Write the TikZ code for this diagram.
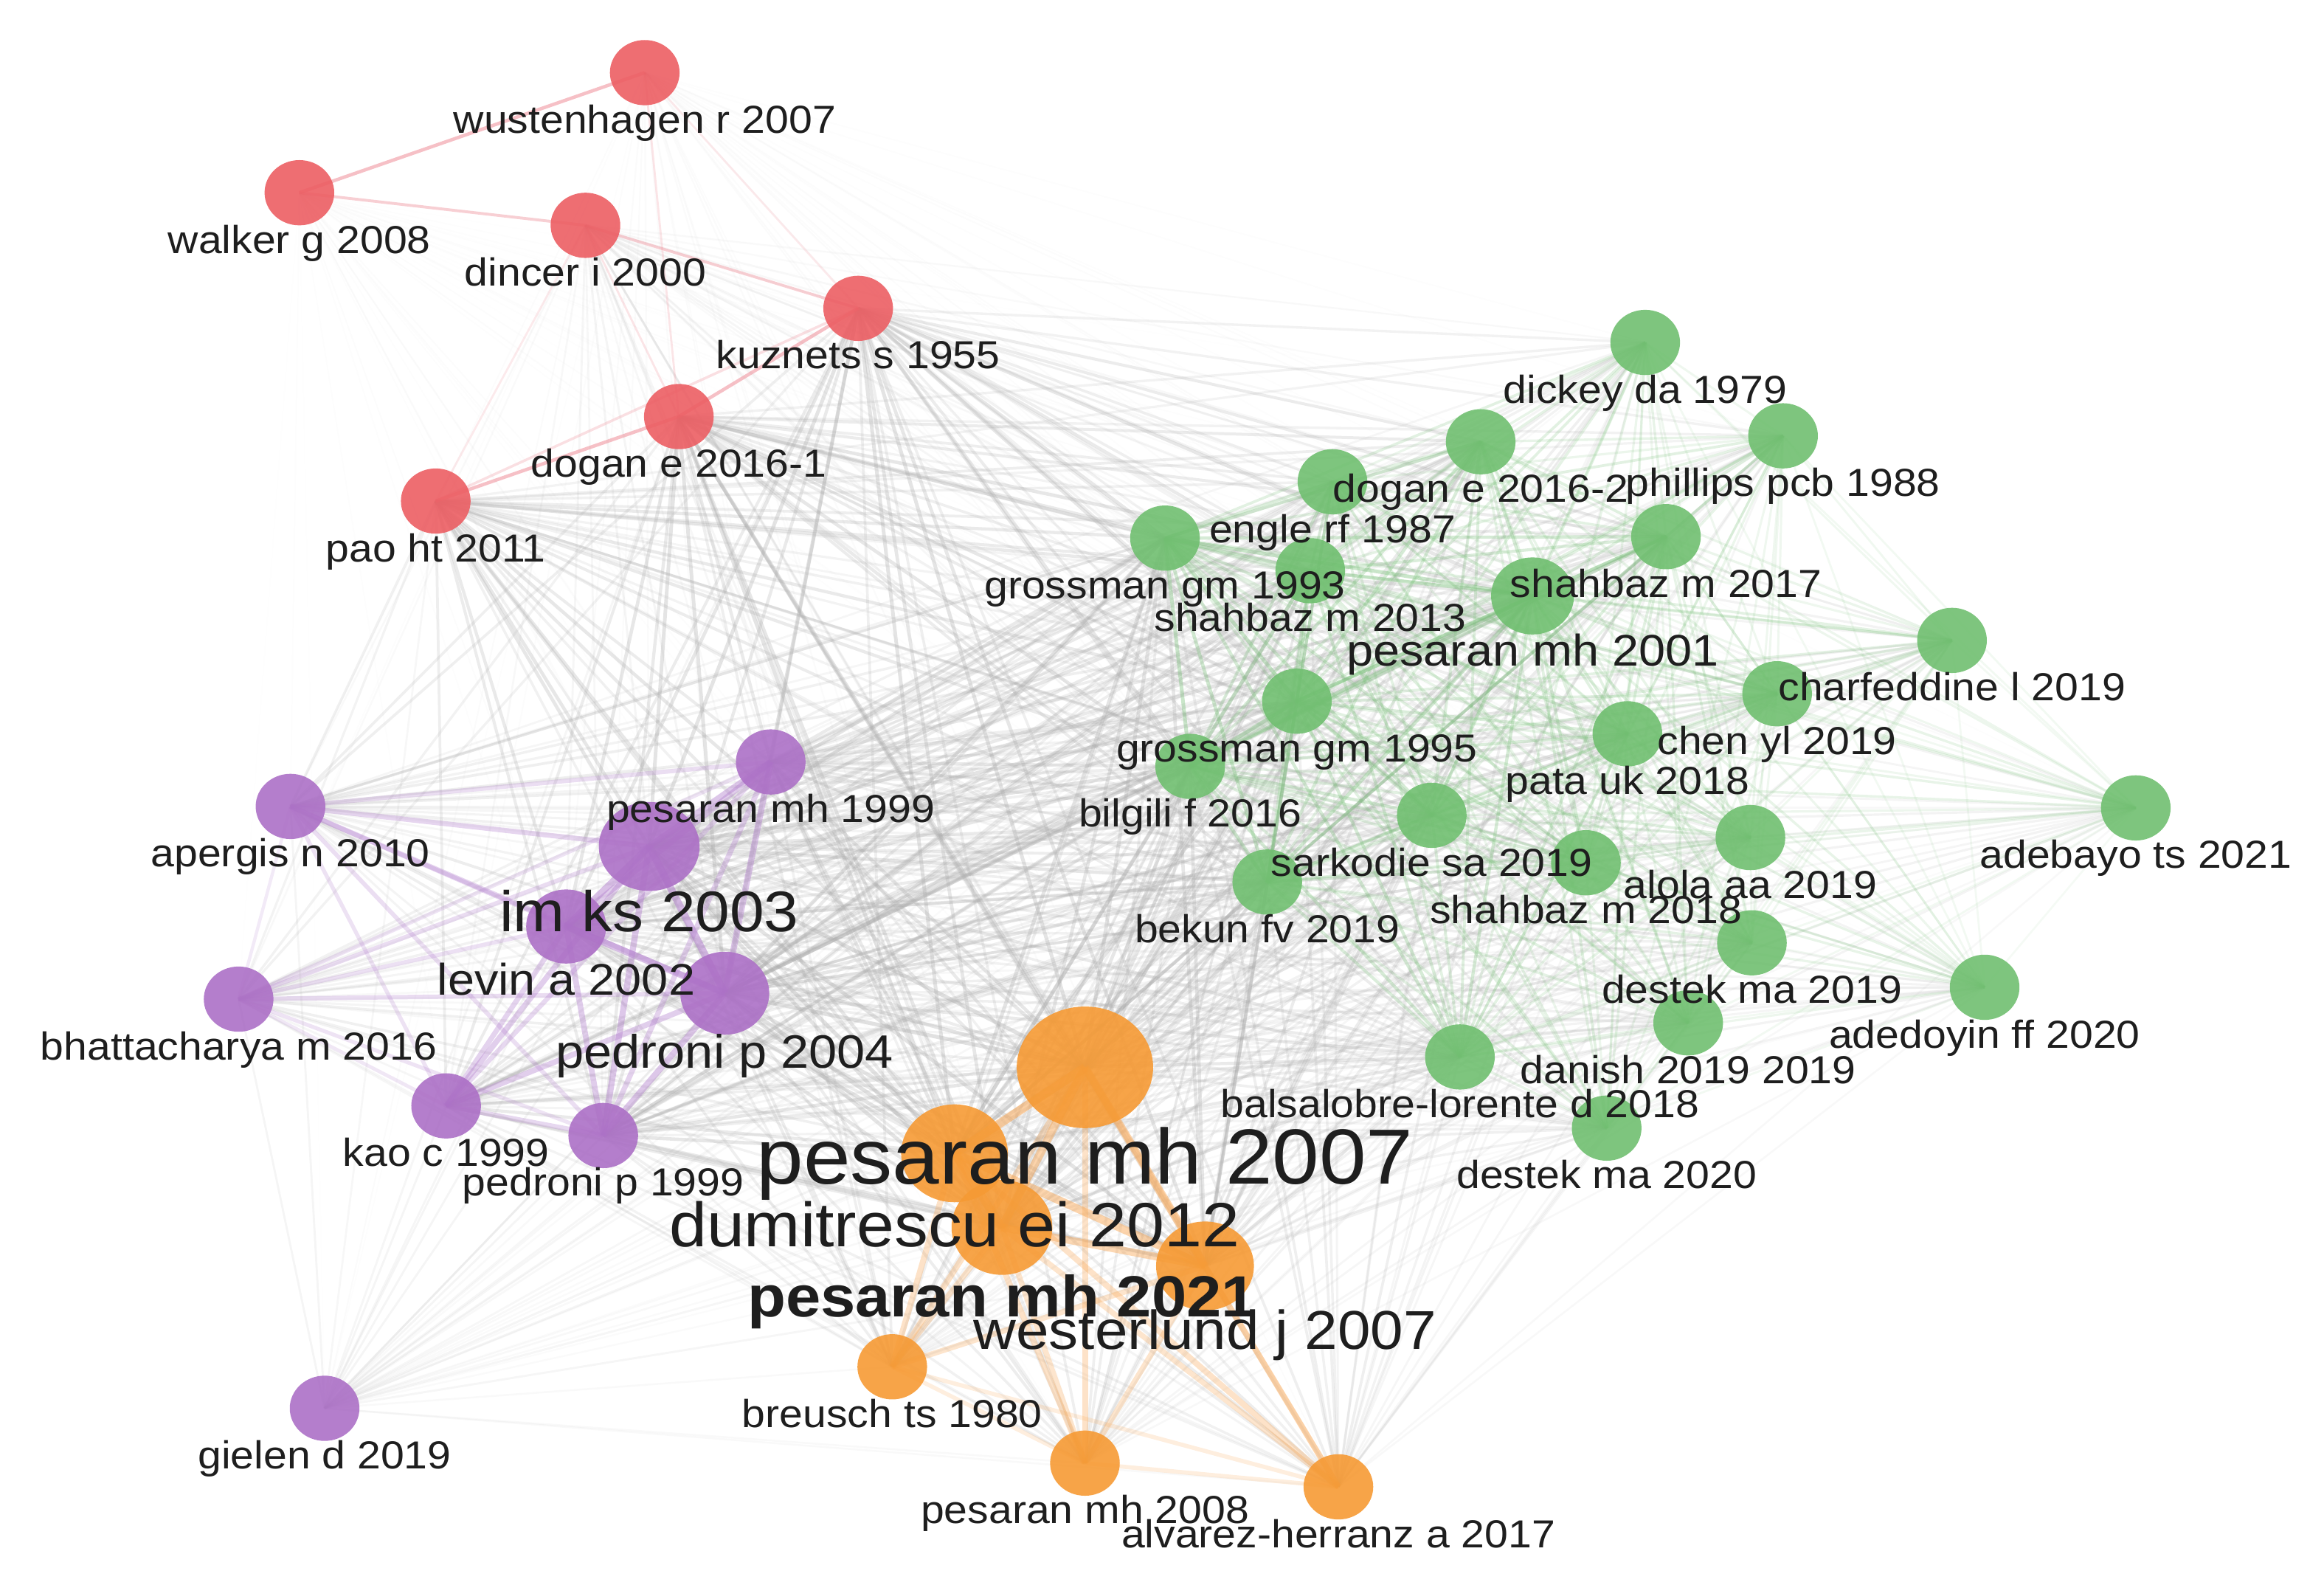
\documentclass[tikz,border=0pt]{standalone}
\usepackage{fontspec}
\setmainfont{Liberation Sans}[FakeStretch=1.08]
\usetikzlibrary{shapes.geometric}
\pgfdeclarelayer{bg}
\pgfdeclarelayer{fg}
\pgfsetlayers{bg,main,fg}
\definecolor{cred}{RGB}{236,94,99}
\definecolor{cgreen}{RGB}{112,191,112}
\definecolor{cpurple}{RGB}{172,112,198}
\definecolor{corange}{RGB}{246,154,52}
\definecolor{txt}{RGB}{30,30,30}
\definecolor{egray}{RGB}{170,170,170}
\definecolor{egreen}{RGB}{125,192,125}
\definecolor{epurple}{RGB}{178,128,205}
\definecolor{eorange}{RGB}{248,168,88}
\definecolor{ered}{RGB}{240,150,160}
\tikzset{
  bub/.style={ellipse, inner sep=0pt, outer sep=0pt, draw=none, fill opacity=0.9},
  lbl/.style={inner sep=0pt, outer sep=0pt, anchor=base, text=txt},
}
\newcommand\bub[8]{%
  \node[bub, fill=#6, minimum width={2*#4*0.02cm}, minimum height={2*#5*0.02cm}] (#1) at (#2,#3) {};
  \begin{pgfonlayer}{fg}
  \node[lbl, font=\fontsize{#7}{#7}\selectfont] (#1-l) at ([yshift={-0.716*#7pt}]#1.south) {#8};
  \end{pgfonlayer}}
\newcommand\crossedges[4]{%
  \foreach \a/\sa in #1 {\foreach \b/\sb in #2 {%
    \pgfmathsetmacro\op{#4*\sa*\sb}\pgfmathsetmacro\lw{0.5+1.0*\sa*\sb}%
    \draw[#3, line width=\lw pt, opacity=\op] (\a.center) -- (\b.center);}}}
\newcommand\withinedges[5]{%
  \foreach \a/\sa [count=\i] in #1 {\foreach \b/\sb [count=\j] in #1 {%
    \ifnum\j>\i\relax
    \pgfmathsetmacro\op{#3*\sa*\sb}\pgfmathsetmacro\lw{0.6+#4*\sa*\sb}%
    \draw[#2, line width=\lw pt, opacity=\op] (\a.center) -- (\b.center);%
    \fi}}}
\def\RL{wus/0.15,wal/0.1,din/0.35,kuz/0.9,dga/0.9,pao/0.8}
\def\GL{dic/0.5,dgb/0.7,phi/0.5,eng/0.6,shq/0.7,gra/0.9,shm/0.8,pzo/0.9,cha/0.45,che/0.5,grb/0.9,pat/0.6,bil/0.9,ade/0.4,sar/0.7,alo/0.5,shr/0.6,bek/0.8,dsa/0.5,ady/0.4,dan/0.5,bal/0.7,dsb/0.5}
\def\PL{pnn/0.8,ape/0.6,imk/1,lev/0.9,pdf/1,bha/0.5,kao/0.7,pdn/0.8,gie/0.35}
\def\PLW{pnn/0.8,ape/0.6,imk/1,lev/0.9,pdf/1,bha/0.5,kao/0.7,pdn/0.8}
\def\OL{psv/1,dum/1,ptw/0.9,wes/0.9,bre/0.6,pse/0.6,alv/0.6}
\begin{document}
\begin{tikzpicture}[x=0.02cm, y=-0.02cm]
\useasboundingbox (0,0) rectangle (1568,1069);
% red cluster
\bub{wus}{435}{49}{23.5}{22}{cred}{15}{wustenhagen r 2007}
\bub{wal}{202}{130}{23.5}{22}{cred}{15}{walker g 2008}
\bub{din}{395}{152}{23.5}{22}{cred}{15}{dincer i 2000}
\bub{kuz}{579}{208}{23.5}{22}{cred}{15}{kuznets s 1955}
\bub{dga}{458}{281}{23.5}{22}{cred}{15}{dogan e 2016-1}
\bub{pao}{294}{338}{23.5}{22}{cred}{15}{pao ht 2011}
% green cluster
\bub{dic}{1110}{231}{23.5}{22}{cgreen}{15}{dickey da 1979}
\bub{dgb}{999}{298}{23.5}{22}{cgreen}{15}{dogan e 2016-2}
\bub{phi}{1203}{294}{23.5}{22}{cgreen}{15}{phillips pcb 1988}
\bub{eng}{899}{325}{23.5}{22}{cgreen}{15}{engle rf 1987}
\bub{shq}{1124}{362}{23.5}{22}{cgreen}{15}{shahbaz m 2017}
\bub{gra}{786}{363}{23.5}{22}{cgreen}{15}{grossman gm 1993}
\bub{shm}{884}{385}{23.5}{22}{cgreen}{15}{shahbaz m 2013}
\bub{pzo}{1034}{402}{28}{26}{cgreen}{17}{pesaran mh 2001}
\bub{cha}{1317}{432}{23.5}{22}{cgreen}{15}{charfeddine l 2019}
\bub{che}{1199}{468}{23.5}{22}{cgreen}{15}{chen yl 2019}
\bub{grb}{875}{473}{23.5}{22}{cgreen}{15}{grossman gm 1995}
\bub{pat}{1098}{495}{23.5}{22}{cgreen}{15}{pata uk 2018}
\bub{bil}{803}{517}{23.5}{22}{cgreen}{15}{bilgili f 2016}
\bub{ade}{1441}{545}{23.5}{22}{cgreen}{15}{adebayo ts 2021}
\bub{sar}{966}{550}{23.5}{22}{cgreen}{15}{sarkodie sa 2019}
\bub{alo}{1181}{565}{23.5}{22}{cgreen}{15}{alola aa 2019}
\bub{shr}{1070}{582}{23.5}{22}{cgreen}{15}{shahbaz m 2018}
\bub{bek}{855}{595}{23.5}{22}{cgreen}{15}{bekun fv 2019}
\bub{dsa}{1182}{636}{23.5}{22}{cgreen}{15}{destek ma 2019}
\bub{ady}{1339}{666}{23.5}{22}{cgreen}{15}{adedoyin ff 2020}
\bub{dan}{1139}{690}{23.5}{22}{cgreen}{15}{danish 2019 2019}
\bub{bal}{985}{713}{23.5}{22}{cgreen}{15}{balsalobre-lorente d 2018}
\bub{dsb}{1084}{761}{23.5}{22}{cgreen}{15}{destek ma 2020}
% purple cluster
\bub{pnn}{520}{514}{23.5}{22}{cpurple}{15}{pesaran mh 1999}
\bub{ape}{196}{544}{23.5}{22}{cpurple}{15}{apergis n 2010}
\bub{imk}{438}{571}{34}{30}{cpurple}{22}{im ks 2003}
\bub{lev}{382}{625}{27}{25}{cpurple}{17}{levin a 2002}
\bub{pdf}{489}{670}{30}{28}{cpurple}{18}{pedroni p 2004}
\bub{bha}{161}{674}{23.5}{22}{cpurple}{15}{bhattacharya m 2016}
\bub{kao}{301}{746}{23.5}{22}{cpurple}{15}{kao c 1999}
\bub{pdn}{407}{766}{23.5}{22}{cpurple}{15}{pedroni p 1999}
\bub{gie}{219}{950}{23.5}{22}{cpurple}{15}{gielen d 2019}
% orange cluster
\bub{psv}{732}{720}{46}{41}{corange}{30}{pesaran mh 2007}
\bub{dum}{644}{778}{36}{33}{corange}{24}{dumitrescu ei 2012}
\bub{ptw}{676}{828}{34}{32}{corange}{22.3}{\bfseries pesaran mh 2021}
\bub{wes}{813}{854}{33}{30}{corange}{21}{westerlund j 2007}
\bub{bre}{602}{922}{23.5}{22}{corange}{15}{breusch ts 1980}
\bub{pse}{732}{987}{23.5}{22}{corange}{15}{pesaran mh 2008}
\bub{alv}{903}{1003}{23.5}{22}{corange}{15}{alvarez-herranz a 2017}
% connectors
\begin{pgfonlayer}{bg}
\crossedges{\RL}{\GL}{egray}{0.35}
\crossedges{\RL}{\PL}{egray}{0.35}
\crossedges{\RL}{\OL}{egray}{0.35}
\crossedges{\PL}{\GL}{egray}{0.35}
\crossedges{\PL}{\OL}{egray}{0.35}
\crossedges{\GL}{\OL}{egray}{0.35}
\withinedges{\GL}{egreen}{0.5}{1.0}{}
\withinedges{\PLW}{epurple}{0.55}{2.2}{}
\withinedges{\OL}{eorange}{0.55}{2.8}{}
\foreach \b in {ape,bha,kao,lev,imk,pdn,pdf,pnn}
  \draw[egray, line width=.8pt, opacity=.12] (gie.center) -- (\b.center);
\draw[ered, line width=1.3pt, opacity=.6] (wus.center) -- (wal.center);
\draw[ered, line width=1.1pt, opacity=.45] (wal.center) -- (din.center);
\draw[ered, line width=1.1pt, opacity=.45] (din.center) -- (kuz.center);
\draw[ered, line width=1.3pt, opacity=.6] (kuz.center) -- (dga.center);
\draw[ered, line width=1.3pt, opacity=.6] (dga.center) -- (pao.center);
\draw[ered, line width=.8pt, opacity=.25] (wus.center) -- (dga.center);
\draw[ered, line width=.8pt, opacity=.25] (din.center) -- (dga.center);
\draw[ered, line width=.8pt, opacity=.2] (wus.center) -- (kuz.center);
\draw[ered, line width=.8pt, opacity=.2] (din.center) -- (pao.center);
\draw[ered, line width=1pt, opacity=.3] (kuz.center) -- (pao.center);
\end{pgfonlayer}
\end{tikzpicture}
\end{document}
